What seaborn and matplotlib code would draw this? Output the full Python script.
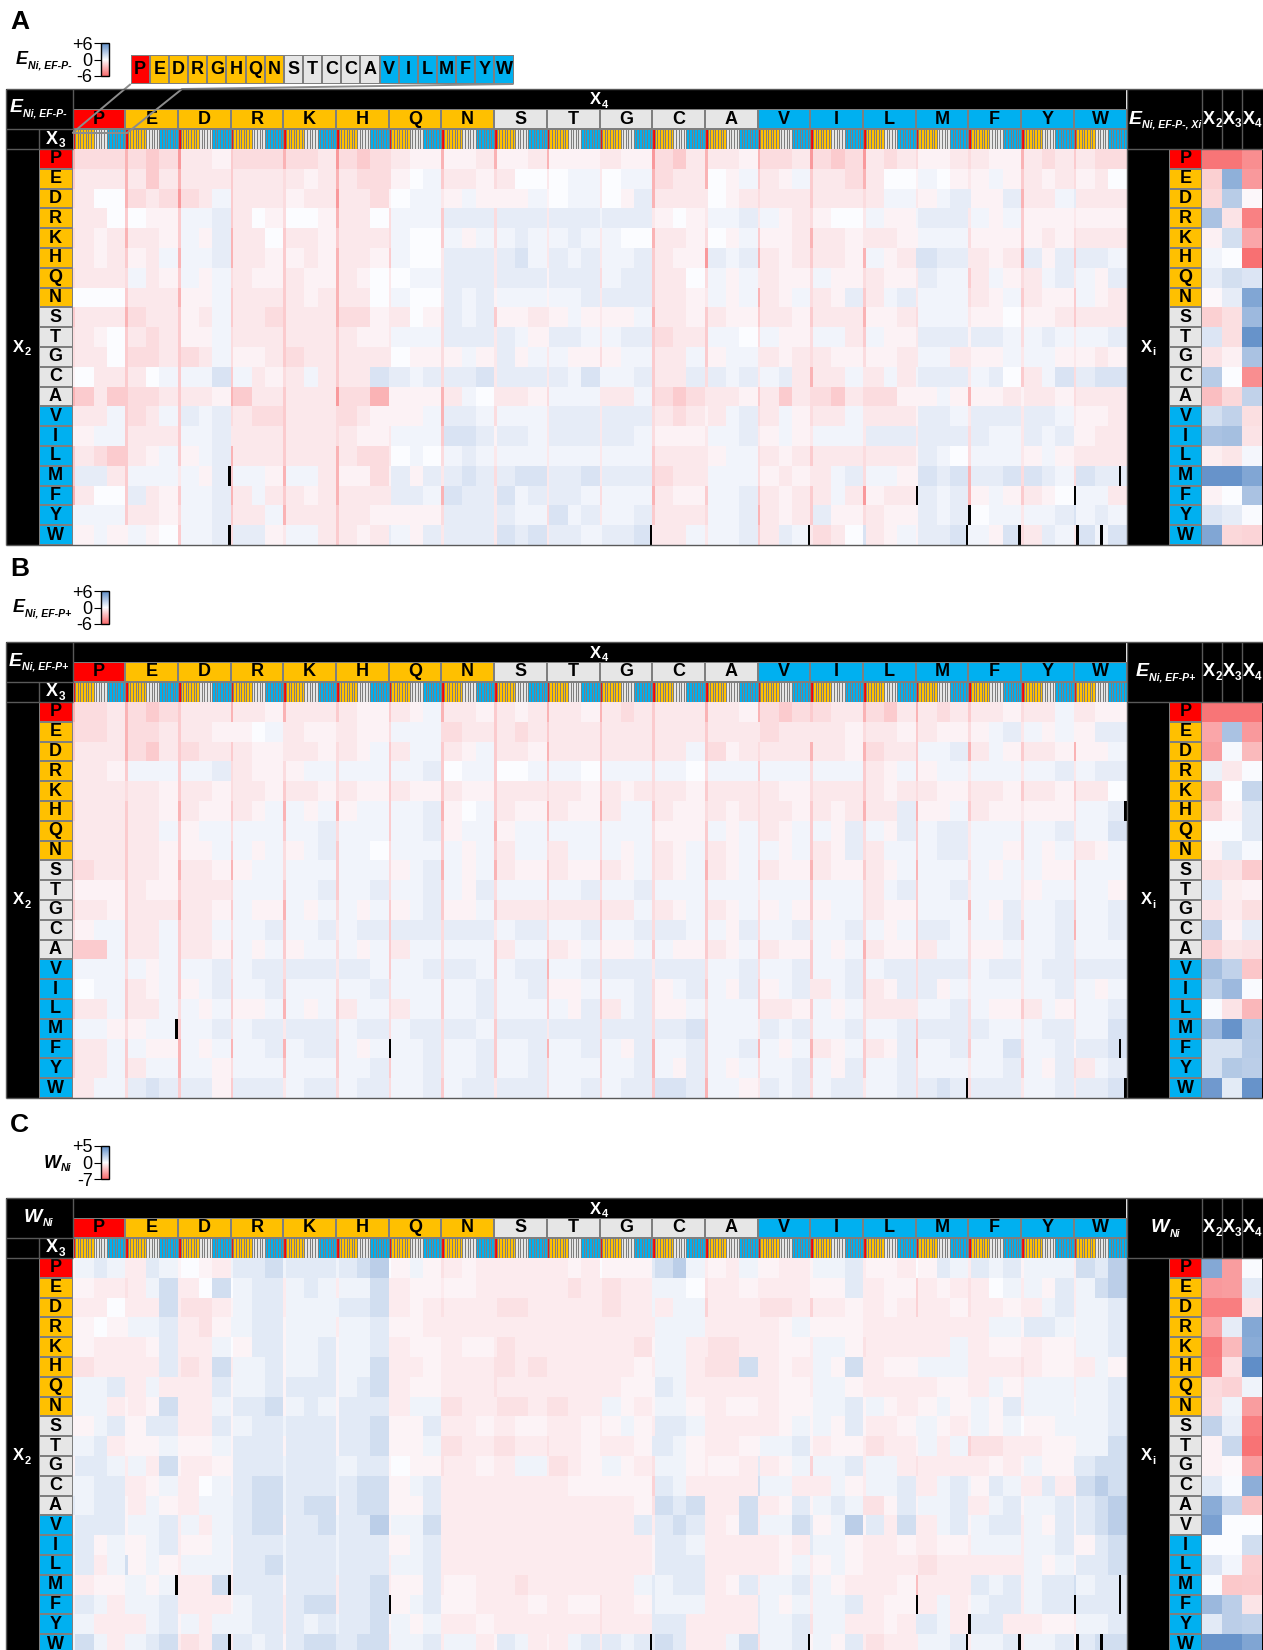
import numpy as np
import matplotlib
matplotlib.use('Agg')
import matplotlib.pyplot as plt
import seaborn as sns
from matplotlib.cm import ScalarMappable
from matplotlib.colors import LinearSegmentedColormap, ListedColormap, TwoSlopeNorm
from matplotlib.patches import Polygon, Rectangle

plt.rcParams['font.family'] = ['Liberation Sans', 'DejaVu Sans']

W, H = 1263, 1650

X2_LETTERS = list('PEDRKHQNSTGCAVILMFYW')
X4_LETTERS = list('PEDRKHQNSTGCAVILMFYW')
KEY_LETTERS = list('PEDRGHQNSTCCAVILMFYW')
KEY_GROUPS = [0, 1, 1, 1, 1, 1, 1, 1, 2, 2, 2, 2, 2, 3, 3, 3, 3, 3, 3, 3]
X3_WIDTHS = [1, 7, 5, 7]  # P, charged/polar, small, hydrophobic inside each X4 block

# groups: 0 = P, 1 = charged/polar, 2 = small, 3 = hydrophobic
GROUP = {'P': 0, 'E': 1, 'D': 1, 'R': 1, 'K': 1, 'H': 1, 'Q': 1, 'N': 1,
         'S': 2, 'T': 2, 'G': 2, 'C': 2, 'A': 2,
         'V': 3, 'I': 3, 'L': 3, 'M': 3, 'F': 3, 'Y': 3, 'W': 3}
GROUP_COLORS = ['#FF0000', '#FFC000', '#E6E6E6', '#00B0F0']

# shade codes
LEVELS = {'.': 0, 'a': -0.4, 'b': -0.8, 'c': -1.3, 'd': -2, 'e': -3, 'f': -4,
          'A': 0.4, 'B': 0.8, 'C': 1.3, 'D': 2}

# one line per X2 row, one group per X4 block, 4 shades per group (X3 classes)
A_ROWS = [
    "dccc dcdc ebba bccc dccb ecdc bbaa aaab caab caaa bbaa dcdb cbba bccb dcdc cbcb baab bbaa cbcb bbcc",
    "cbbb bbdb dbbb cbbb bbab dbcc ba.A Abba cb.. b.AA a.AA bcbb b.aA bbaA bbbc bb.. CA.a aaAa dbab cab.",
    "bb.. dcbc ecbA cbbb babb dbbc a.AA AaAa baaA b.AA a.aB dbbb c.ab bbbb cbbb abAA BaAB daaB cbbA cbbb",
    "abb. ..aa cAAB bb.a c..a .bb. aAAA bBBB aBBB bBBB ABBB aa.a bAAB bAab ca.. bAaa aBBB bAaA baaa baaa",
    "abab cbba cAaB abb. cbba cbbb aA.. bAaA bABA bABA aA.. cbba b.aA baab cbba cbba aAAA baaa baba cbbb",
    "bbab cabA bAAB dbba daba dbba AA.. bBBB bBCA bBAB bAAB cbaa cBAB dbab dbba cAab dCBB bbab aBaB bBBA",
    "cbbb bAba cAaA bbaa bbaa cba. ..AA bBBB aBBB bBBB aABB cbb. bAaA bbaa aAaa bbaa BBAA .bAa bbAB bAaB",
    "a... bbbb caaA bbbb bbab dbb. BA.. dBAB aAAA bAAB aBBB dbba aAaA cbaA bbaB dbAB aAAA bbaA cbaa bAab",
    "cbbb ccbb cabA cbbc bbbb ccca .b.a aBAB baab baAa .aaA dbba cbaa cbba cbbb baab AAAA aaa. .aab .bbb",
    "bba. bbcb baaA bbbb bbbb bbaa .AAA aBBB aBAa aBBA aABB dcbb bAA. bAaa bAAb bAaa ABBB ABBA .ABA bAAB",
    ".bb. bccb bcbA baab bcbb cbbb ..aa .aAa bBaA bAaa aaAA cbbA .aAA cbab cbaa caab aAAb baaA bAAa baba",
    "a.bb bb.A bAAC bAba bbAb bbbC BBAB bBBC bBBB bBAC aAAB bbbB bBAB cABb bbbA .bAb dBBB aAB. .bAC cBCC",
    "ddbd dccb dbba cdbb cbbb ccce aaaa bbA. dbba cAAA .bbA dcdc cbba cbdb bcdb ccca baAa caab bbba bbbb",
    "bbbA bcbA bBAB bbcc bbbb ccba aaaA bBBA bAAA aBBB aBBB cbcb abAB bbAa bbbA bbbb BBBA aBBB aBBA .aab",
    "aaAA bbbb bAAB bbbb bbbb .baa AAAA bCCB bBBA bBBB aBBA aaaa aAAB .aAa aAAA bBBB BBBB aBAA aBAB .abb",
    "cbcd bbaA baAB bbbb bbbb bbcc a.A. bABA bAAA aAAA .AAA bbbb baAA bbab bbbb bbbb BBA. bAAA .aAa .bbb",
    "aBBb bAAA bAaB bAAa bAAb baac BBaB aBCB bBCC bBBC aBBB dcbb bAAA baba bbAB bAAa BCBC dBBC aCBA bCBB",
    "db.. ABba bAAB abAb cbab dbbb CBBA dCBB eCAB dBBA aAAA cbaa dAAB dbab ebAb eabb BBAB daAa cba. bAAb",
    "dAAA .bba bAAB dbbA dbbb .bba .aaa bBBB bBAA bCAB .AAB cbbb bAAB cbab dBaa cbaa BBAB ..AA bAAB BABA",
    "AaAa bAa. CAAB ABBa aAAb dbab BAaB aBBB dCBC bBBA ABBC bbbA bAAB bbBA bcb. bbaA CBBC bAaC cbBA .CAC",
]
B_ROWS = [
    "dccb ecdc dbbb cbba dbbb dbaa cbaA dbba bbab dbba dbcb ebbb dbba dcdc ccbb dcdb cbcb bbba bbbA bbaa",
    "dccb dccb dbba aa.A bbaa bbaa bAAA .cbb cbcb bbbb cbbb bbbb cbbb dcbb bbba bbba bbaa baAB aAaA .aBB",
    "dbbb ccdb dcbb bbaa cbba bbaA bbAA bbaA cbba cbbb bbbb bbbA dcab cbbb dbba dcbb bAAB bbAa bbba aaaA",
    "bbba aAAA cAAB cbaa aaAA bAAA aAAB b.AA a..A bAA. aAAA bAA. bAAA bAAA bAAA bbaA aaAA aAAA aAAB aABB",
    "bbbb bbba bbba bbba bbba bbaa bbaa bbaa bbbb bbba bbab bbba bbbb bbaa bbbb bbab bbaa bbba bbba abb.",
    "cbbb bbba bbaa cbaA cAaA eaAA cAAB ba.A bbaa bbaa dbAA cbaa cbab bbba cbab cbbB BaaA cbaa eaaa bAAB",
    "abbb bbbA .aAA bAAA bAAB aAAA aAAB baAA baAA bAAA bAAA baaa bAaA bbaA bAaB bAaB bABB .AAA .AAB bAAC",
    "bbbb bbba baaA bAaA aaAB bAA. bAAA bAaA bbAA bbAA cAaA cbaA bbaA bAaA bbaB bbAA AABB bAAa bAaA bbaA",
    "acbb cbba cbba baAA aAAA bAAA aaAB bAaA cbaa cbaa bbaA cbaA bbaA cbaa cbaa bbaA aAAA bAaA bAaa bAAA",
    ".aaa bbaa bbbb bAAA aAAB bAAB aAAB bAaB cAAA bAAB aAAB bAAA cAAA bAAA bAAA bbAB cAAB bAAA baAA bAAa",
    "bbba bbbb cbba eAaa bAaA bAaA baAB aaaA bbbb bbbb cbbA bbaA bbaA baAa baAA bbaa aAAA cAaB aAAB bAAB",
    "aaAA bbbA bbbA bAAB aAAB bABB bBBB aBBB aABB bAAB bAAB aBBA bAaB aAAB bAAB bAaA CBBA cAAB bAAB cAAB",
    "dddA bbbA bbba cAaA baAA aAaA bbAA aAAA bbAA bbaA baaA cAaa dbaA cbaa bAaA cbaa bbAA aaaA bAAB aAAA",
    "aAAA aAaA cAAB bABB bBBB aBBA aAAB bBBA aABB aAAB cBBB bBBB bAAB bAAB bAAB bABB ABBB cABB aABB aBBB",
    "a.AA bbaA baAB bAAB aAAA bAAB aAAA bAAB bAAB baaA bAAB baAB bAaB baAB bbAB bbaB BBaA cAAA aAAB aAaA",
    "cbbA bbbA bAaA baaA bAaA bbAA bbAA aAAB bAAA aAaB bbAB caaA bAAA cbba bAaA bbbb bAAB aAaa bbAa .AAB",
    "AAAa .aAA bAAB bABB .BBB aABB bABB bBBA aBBB bBBB bBBB aBBC bAAA bBAB bAAB bAAB ABBB CBAA BABB cAAC",
    "bbbA dAaa cAaA dAAB dABB eAaA bAAB eAAB bAAB dAAB dAaB dAAB bAAB bAaA cbaA bbaB bAAB cAAC cAAB cBBC",
    "bbbA cbAA dAAa bAAA aAAA bAAB aAAB bAAB bAAB bAAA cAAB bAaB cAaA bAAB bAaB aAAB aAAA bAAB cAaB bbAB",
    "bbAA bBCB bBBa dBBB aABB bABB bAAB bABB aBBB aAAB aABB bCCB cAAa bBAB aABB bAAB BBCB aBBB bAAB aBBC",
]
C_ROWS = [
    "aABA bbBA a.ab ABBC ABBB ABCD .aAa cbab bbbb bbab .aaa BCDA babA aabb aAAB baab .aBA bBAB aAAA bCBD",
    "aabb cbAC bb.C .ABB bABA bAAC bbaa baab bbbb bbcb bcbb AAA. cbba bbbb aaaB bbaa dbab cb.A bAaB bACD",
    "bbb. bbbC bccb aABB bAAA ABBC bbab cbbb bccb bbbb bcbb AbAA dbbb bccb dbba bbab dbba cbba bbAB bAAB",
    "aa.a aAAB bbca AABB aAAA bAAB aaab bbbb bbbb bbbb bbbb bAAA bbbb bbaA aaaa bbbb bbbb bbAA aBBA aAAB",
    "aabb bbaB bbbA .aBB aAAB aAAB bbaa bbaa bcbb bbbb bbbc aAAb bccb bbaa bAAa cbbb bbbA bbaa bbaa bAAB",
    "ccbb bbbB bcbC bAAB aAAB aAAC bbba bbbb ccbc bbbb bbba bAAb cccC bbab bAaC bbaa aAAA bbbb cbaa bbAa",
    "aAAB bbAb bbbB aAAB aBBB aABC bbaa bbbb cbbb bbbb bbaa aBAb bbbb bbaa bAAa bbbb bbaa bbAa bAAA bAAB",
    "aAAb abaC bbbA aBBC aABA aBBB bbAA ccbb bccb ccbb bAab aAAa bbaa bbaa aAAB aAab baAa aAaB bAAA aAAB",
    "aaAB aaBB bbbB aABB ABBB aBBC aaaB bbba bbaa bbba baAa bBBA bbbb bbaA aAaB abba AAab aAaA .aaA AAAB",
    "AABb aaaA aaaA aBBB aBBB aBBC aaaA ccbb ccbb cbba bbba BBAa bbba aAAB abaa bcbb aAbA dccb bbaa aAAC",
    "aBBA bAbC abba aBBB ABBB AABB a.aa cbba bbAA bcba aAab cAAa baab BbaA dAAB bAAb cbbb bbab aAaa BBCC",
    "AABB bbaA bb.A aBCC ABBB ABCC aaAB bbbb bbbb bbaa aaaa dBAb bbbb CAAb bbAa bAAB bbAB AaBA bbBb bCDC",
    "BABB abAa bbAA ABCC ABCC aBCC aaaB bbbb bbbb bbbb bbba cCBC bbbC bbaB aABA ccaB aAAB bbAB aAAB aBCD",
    "aBBB aAAB bAbA ABCC aBBC ABBD aAAC bbbb bbbb bbbb bbbB bBCB bbaC bAAC BaAD aBbC bbAB aABB bAaB aBCD",
    "ABaA aaAB baaA aBBB ABBB ABBB aaAB bbbb bbbb bbbb bbbb aBBA bbbb bbab BAAa bbba bbaa bAAA bAAB aaBC",
    "aBbA CaAa bAAA aBBC ABBB ABBB bAAB bbbb bbbb bbbb bbbb aBBB bbbb bbaA baAa bbbb bcbb bbbb bAaA aBBC",
    "abaa AAaA bbbC bBBB aBBB bBBC baaB baab bbcb bbbb bbbA BABB bbaB bAAB bAab bbba ebbb bBAB bABB CABB",
    "bBAb AAAB bbbb aABB bBCC bBBC aaAB aaab bbba bbaa cbba BAAA bbbb BAaA bAAB bbaa bbAb aABB bABB aBBB",
    "AAbb bbAB aAbA AABB bBAB ABBC aAaA bbba bbbb bbbb cbbb BBBb bbbb BAAB cAAb bbab BBAb cBBb bbaa bAAB",
    "ACAb AABC bcbC bBAB aBCC BBCC bAAB bAAb aBAb abAB bBAB BCBb bbAC cAAB aAaB bcbb bAAB bAAB bAAB aBCC",
]

# the X3 = P column of every X4 block, read on its own (it stands out as a thin red line)
A_P_COLUMN = [
    "eefde fceee bfeef fcced", "deedc ecdcb beedd eabdc", "cefdc fabaa bebcd cbBeB", "bdddc ecdcb Abbbc bAbdb",
    "ceded dcdcb becde bacdc", "bdeed edbbb bdfed eCbed", "ccdcd ebbba cdcbc cbdcb", ".dedd ebbaa bdbec dbcdd",
    "deddd ebcdb beddd ecbcd", "cddcd dbcba bddcc dbacb", "cddcd dbcbb cddbc cbbbb", "adddc dBcbb Adcbe bAbdc",
    "edded faebc bdbdc caeac", "bddcd caecb bcacc babbb", "addbd cbdab bcbbb bbcba", "ddded ebcbb bdbcd cacbb",
    "ddbde eabcb bdbcb caecc", "edded ebebb ceddd faedc", "Adcde dacbc bdced cadbC", "Aadcb dBbbb Abbdb CaAcb",
]
B_P_COLUMN = [
    "eedee ddede edeed eedcb", "dedab bccdd dddbb cdcba", "deddb cddde dddce edede", "bddcc cdddd dccdc ddbbb",
    "ccdcd cdddc dcdcc dccdd", "ddede edede edccd eedbc", "cddcd cdded ccdcd cdbcb", "cdddc dcddc ccdcd cdbcc",
    "ddeec dceed dcede decbd", "cddcd dcdcd ccdbd cdbbc", "ddede cdddc dcdcd cdebd", "cddcd bdcbc dcdcc cdcde",
    "ddddd cdcdd cdddd edcbb", "bcdcc bdcde cbccd dccbc", "bdddd ccdcd dcddb dcbbb", "ddcde dcdcd dccdd cbcdc",
    "bcdcb cccdb ccdbc cdcbb", "ddeee decde dedee dedca", "ddecd ddcdc dedcd dcbdc", "bcddb ccdbc cdebc bccbb",
]

# cells drawn black: (X2 row letter index, column out of 400)
A_BLACK = [(16, 59), (19, 59), (16, 397), (17, 320), (17, 380), (18, 340), (19, 219),
           (19, 279), (19, 339), (19, 359), (19, 381), (19, 390)]
B_BLACK = [(16, 39), (17, 120), (17, 397), (5, 399), (19, 339), (19, 399)]
C_BLACK = [(16, 39), (16, 59), (17, 120), (19, 59), (16, 397), (17, 320), (17, 380), (17, 397),
           (18, 340), (19, 219), (19, 279), (19, 339), (19, 359), (19, 381), (19, 390)]

# side tables
A_X2 = [-5.5, -1.8, -1.5, 3, -0.5, 0.4, 0.8, -0.2, -1.8, 1.2, -1, 2.5, -2.5, 1.5, 3, -0.6, 5.5, -0.4, 1.2, 4.5]
A_X3 = [-5.5, 4, 2.5, -1, 1.5, 0, 1.5, 0.8, -1.2, -1.2, -0.5, 0, -1.5, 2.2, 3.2, -0.9, 5.5, 0, 0.8, -1.5]
A_X4 = [-4.5, -4, -0.2, -5, -3.5, -5.7, 1.2, 4.5, 3.5, 5.5, 3, -4.5, 2.2, -1.2, -1, 0.3, 4.5, 3, 0.1, -1.6]
B_X2 = [-5.5, -3.5, -3.8, 0.6, -2.7, -1.6, 0.1, -0.4, -1.2, 1, -1, 2.2, -1.6, 3.2, 2.3, 0.1, 3.5, 1.4, 1.4, 5.2]
B_X3 = [-5.5, 3, 0.2, -0.8, 0, -0.4, 0.1, 0.9, -1, -0.6, -0.7, -0.4, -0.9, 2.2, 3.5, -1, 5.5, 1.4, 2.7, 0.9]
B_X4 = [-5.5, -4, -2.7, 0.1, 2, 1, 1, 0.2, -2, -0.4, -1.2, 0.8, -1.1, -2.2, 0.1, -2.8, 2.6, 2.5, 2.4, 5.5]
C_X2 = [3.7, -4.7, -6, -4.2, -6.2, -6, -1.6, -1.5, 1.8, -0.5, -0.5, 0.8, 3.5, 4, 0, 1, 0.1, 3, 0.8, 4.6]
C_X3 = [-4.5, -4.5, -6, 0.7, -3.2, -1.2, -2, 0.4, 0.6, 1.6, -0.2, 0.1, 1.7, 0, 0, 0.3, -2.5, 2, 2, 4.6]
C_X4 = [0.1, 0.8, -1.2, 3.7, 3.5, 4.8, 0.4, -4.5, -6, -6.5, -4.5, 3.4, -2.8, 0, 1.3, -2.2, -2.4, -1.1, 1.8, 3.8]
# in panel C the side table colours V like the small residues
C_SIDE_GROUPS = [0, 1, 1, 1, 1, 1, 1, 1, 2, 2, 2, 2, 2, 2, 3, 3, 3, 3, 3, 3]

heat_cmap = LinearSegmentedColormap.from_list('heat', ['#F8696B', '#FCFCFF', '#5A8AC6'])
group_cmap = ListedColormap(GROUP_COLORS)
GREY = '#7F7F7F'

fig = plt.figure(figsize=(W / 100, H / 100), dpi=100)
renderer = fig.canvas.get_renderer()


def px_axes(x0, y0, x1, y1, z=1):
    return fig.add_axes([x0 / W, 1 - y1 / H, (x1 - x0) / W, (y1 - y0) / H], zorder=z)


back = px_axes(0, 0, W, H, z=0)
back.set_xlim(0, W)
back.set_ylim(H, 0)
back.axis('off')
top = px_axes(0, 0, W, H, z=5)
top.set_xlim(0, W)
top.set_ylim(H, 0)
top.axis('off')


def sub_label(x, y, main, sub, size, sub_size, color='black', ha='center', style='normal', weight='bold'):
    # main letter + lowered small text, placed as one block
    t1 = top.text(x, y, main, fontsize=size, color=color, style=style, weight=weight, ha='left', va='center')
    t2 = top.text(x, y + size * 0.42, sub, fontsize=sub_size, color=color, style=style, weight=weight,
                  ha='left', va='center')
    w1 = t1.get_window_extent(renderer).width
    w2 = t2.get_window_extent(renderer).width
    x0 = x - (w1 + w2) / 2 if ha == 'center' else x - (w1 + w2)
    t1.set_x(x0)
    t2.set_x(x0 + w1 + 0.5)


def key_strip(rect, letters, groups=None, vertical=True, lw=1.2, size=13):
    ax = px_axes(*rect, z=2)
    if groups is None:
        groups = [GROUP[c] for c in letters]
    if vertical:
        codes = np.array(groups).reshape(-1, 1)
        text = np.array(letters).reshape(-1, 1)
    else:
        codes = np.array(groups).reshape(1, -1)
        text = np.array(letters).reshape(1, -1)
    sns.heatmap(codes, ax=ax, cmap=group_cmap, vmin=-0.5, vmax=3.5, cbar=False, annot=text, fmt='',
                annot_kws={'fontsize': size, 'fontweight': 'bold', 'color': 'black'},
                linewidths=lw, linecolor=GREY, xticklabels=False, yticklabels=False)
    ax.tick_params(length=0)
    return ax


def expand_rows(rows, p_column=None):
    out = []
    for r, row in enumerate(rows):
        groups = row.split()
        assert len(groups) == 20 and all(len(g) == 4 for g in groups), row
        vals = [LEVELS[c] for g in groups for c in g]
        if p_column is not None:
            p = p_column[r].replace(' ', '')
            assert len(p) == 20, p
            vals[0::4] = [LEVELS[c] for c in p]
        out.append(np.repeat(vals, X3_WIDTHS * 20))
    return np.array(out)


def panel(tag, tag_y, top_y, main, sub, side_sub, rows, p_column, black, side, side_groups, lim, bar_y):
    heat_top = top_y + 60
    bottom = heat_top + 396
    lo, hi = lim
    norm = TwoSlopeNorm(vmin=lo, vcenter=0, vmax=hi)

    top.text(10, tag_y, tag, fontsize=19, fontweight='bold', va='baseline', ha='left')

    # black frame pieces
    back.add_patch(Rectangle((6, top_y), 1120, 40, color='black', lw=0))
    back.add_patch(Rectangle((6, top_y + 20), 66.5, 396 + 40, color='black', lw=0))
    back.add_patch(Rectangle((1126.5, top_y), W - 1126.5, 60 + 396, color='black', lw=0))

    # main heat map
    data = expand_rows(rows, p_column)
    for r, c in black:
        data[r, c] = np.nan
    ax = px_axes(72.5, heat_top, 1126.5, bottom, z=2)
    ax.set_facecolor('black')
    sns.heatmap(data, ax=ax, cmap=heat_cmap, norm=norm, cbar=False, xticklabels=False, yticklabels=False)
    ax.tick_params(length=0)

    # letter strips
    key_strip((38.5, heat_top, 72.5, bottom), X2_LETTERS)
    key_strip((72.5, top_y + 20, 1126.5, top_y + 40), X4_LETTERS, vertical=False)
    key_strip((1169, heat_top, 1202, bottom), X2_LETTERS, groups=side_groups)

    # X3 stripe row
    x3_groups = [GROUP[c] for c in X4_LETTERS] * 20
    ax3 = px_axes(72.5, top_y + 40, 1126.5, heat_top, z=2)
    sns.heatmap(np.array(x3_groups).reshape(1, -1), ax=ax3, cmap=group_cmap, vmin=-0.5, vmax=3.5, cbar=False,
                linewidths=0.45, linecolor=GREY, xticklabels=False, yticklabels=False)
    ax3.tick_params(length=0)
    for i in range(21):
        ax3.axvline(i * 20, color=GREY, lw=1)

    # side table
    axs = px_axes(1202, heat_top, 1262, bottom, z=2)
    sns.heatmap(np.array(side).T, ax=axs, cmap=heat_cmap, norm=norm, cbar=False, xticklabels=False, yticklabels=False)
    axs.tick_params(length=0)

    # grey rules
    for x0, y0, x1, y1 in [(6, top_y, W, top_y), (72.5, top_y, 72.5, top_y + 40), (6, top_y + 40, 72.5, top_y + 40),
                           (38.5, top_y + 40, 38.5, heat_top), (6, heat_top, 72.5, heat_top),
                           (1126.5, top_y, 1126.5, bottom), (1126.5, heat_top, W, heat_top),
                           (1202, top_y, 1202, heat_top), (1222, top_y, 1222, heat_top),
                           (1242, top_y, 1242, heat_top), (6, bottom, W, bottom), (6, top_y, 6, bottom)]:
        top.plot([x0, x1], [y0, y1], color='#595959', lw=1, solid_capstyle='butt')

    # texts
    sub_label(38, top_y + 19, main, sub, 14, 7.6, color='white', style='italic')
    sub_label(1165, top_y + 30, main, side_sub, 14, 7.6, color='white', style='italic')
    sub_label(599, top_y + 11, 'X', '4', 12, 8, color='white')
    sub_label(55.5, top_y + 50, 'X', '3', 13, 8.5, color='white')
    sub_label(22, heat_top + 198, 'X', '2', 12, 8, color='white')
    sub_label(1148, heat_top + 198, 'X', 'i', 12, 8, color='white')
    for cx, lab in zip([1212, 1232, 1252], '234'):
        sub_label(cx, top_y + 30, 'X', lab, 13, 8.5, color='white')

    # colour bar
    cax = px_axes(101, bar_y, 108.7, bar_y + 33, z=2)
    cb = fig.colorbar(ScalarMappable(norm=norm, cmap=heat_cmap), cax=cax)
    cb.set_ticks([lo, 0, hi])
    cb.set_ticklabels([str(lo), '0', '+' + str(hi)])
    cb.ax.yaxis.set_ticks_position('left')
    cb.ax.tick_params(labelsize=13, length=5, width=0.8, pad=1)
    cb.outline.set_linewidth(1)
    sub_label(71, bar_y + 17, main, sub, 13, 7.6, ha='right', style='italic')


default_groups = [GROUP[c] for c in X2_LETTERS]
panel('A', 29, 89, 'E', 'Ni, EF-P-', 'Ni, EF-P-, Xi', A_ROWS, A_P_COLUMN, A_BLACK, [A_X2, A_X3, A_X4],
      default_groups, (-6, 6), 43)
panel('B', 576, 642, 'E', 'Ni, EF-P+', 'Ni, EF-P+', B_ROWS, B_P_COLUMN, B_BLACK, [B_X2, B_X3, B_X4],
      default_groups, (-6, 6), 591)
panel('C', 1132, 1198, 'W', 'Ni', 'Ni', C_ROWS, None, C_BLACK, [C_X2, C_X3, C_X4], C_SIDE_GROUPS,
      (-7, 5), 1146)

# zoom key above panel A, with its funnel down to the first X3 block
key_strip((130.7, 55, 513.6, 84), KEY_LETTERS, groups=KEY_GROUPS, vertical=False, lw=1.2, size=13)
top.add_patch(Polygon([(130.7, 84), (72.5, 133), (127, 133), (182, 89), (513.6, 84)], closed=False,
                      fill=False, edgecolor='#8C8C8C', lw=1.4))

fig.savefig('out.png', dpi=100)
